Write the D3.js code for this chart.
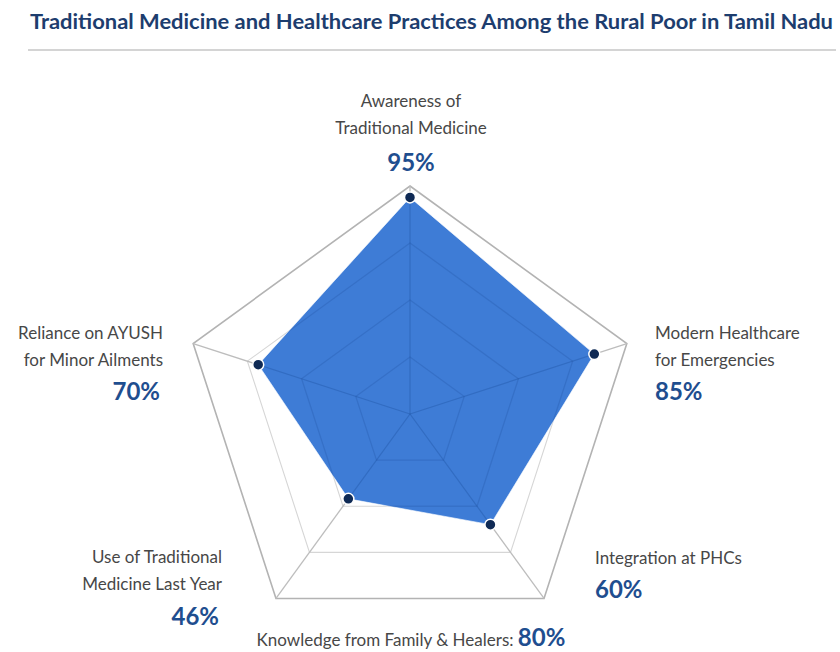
<!DOCTYPE html>
<html>
<head>
<meta charset="utf-8">
<script src="https://cdn.jsdelivr.net/npm/d3@7"></script>
<style>
  html, body { margin: 0; padding: 0; background: #ffffff; }
  svg { display: block; font-family: Lato, "Open Sans", sans-serif; }
</style>
</head>
<body>
<svg id="chart" width="840" height="652"></svg>
<script>
// Survey indicators plotted on the radar axes (clockwise from top)
const axisNames = [
  "Awareness of Traditional Medicine",
  "Modern Healthcare for Emergencies",
  "Integration at PHCs",
  "Use of Traditional Medicine Last Year",
  "Reliance on AYUSH for Minor Ailments"
];
const axisValues = [95, 85, 60, 46, 70];

// Label lines for each axis
const axisLabelLines = [
  ["Awareness of", "Traditional Medicine"],
  ["Modern Healthcare", "for Emergencies"],
  ["Integration at PHCs"],
  ["Use of Traditional", "Medicine Last Year"],
  ["Reliance on AYUSH", "for Minor Ailments"]
];

// Extra indicator shown as a footnote under the radar
const noteName = "Knowledge from Family & Healers";
const noteValue = 80;

const gridLevels = [25, 50, 75, 100];

const titleText = "Traditional Medicine and Healthcare Practices Among the Rural Poor in Tamil Nadu";

const svg = d3.select("#chart");

// ---- Title and rule ----
svg.append("text")
  .attr("x", 30).attr("y", 29)
  .attr("fill", "#1d3d6e")
  .attr("font-weight", 700)
  .attr("font-size", 20.5)
  .attr("textLength", 803)
  .attr("lengthAdjust", "spacingAndGlyphs")
  .text(titleText);

svg.append("line")
  .attr("x1", 28).attr("x2", 836)
  .attr("y1", 50).attr("y2", 50)
  .attr("stroke", "#d4d4d4").attr("stroke-width", 2);

// ---- Radar geometry ----
const cx = 410, cy = 414, R = 228;
const r = d3.scaleLinear().domain([0, 100]).range([0, R]);
const angle = d3.scaleLinear().domain([0, axisNames.length]).range([0, 2 * Math.PI]);

const pt = (i, v) => {
  const a = angle(i);
  return [cx + r(v) * Math.sin(a), cy - r(v) * Math.cos(a)];
};

const g = svg.append("g");
const ringLine = d3.line();

// grid rings
gridLevels.forEach(lv => {
  const pts = axisNames.map((_, i) => pt(i, lv));
  g.append("path")
    .attr("d", ringLine(pts) + "Z")
    .attr("fill", "none")
    .attr("stroke", lv === 100 ? "#b3b3b3" : "#d6d6d6")
    .attr("stroke-width", lv === 100 ? 1.6 : 1.1);
});

// spokes
axisNames.forEach((_, i) => {
  const [x, y] = pt(i, 100);
  g.append("line")
    .attr("x1", cx).attr("y1", cy)
    .attr("x2", x).attr("y2", y)
    .attr("stroke", "#bdbdbd").attr("stroke-width", 1.3);
});

// data area
const areaPts = axisValues.map((v, i) => pt(i, v));
g.append("path")
  .attr("d", d3.line()(areaPts) + "Z")
  .attr("fill", "#3475d4")
  .attr("fill-opacity", 0.95)
  .attr("stroke", "#ffffff")
  .attr("stroke-opacity", 0.6)
  .attr("stroke-width", 1);

// grid lines faintly visible over the fill
const clipId = "areaClip";
svg.append("clipPath").attr("id", clipId)
  .append("path").attr("d", d3.line()(areaPts) + "Z");
const over = g.append("g").attr("clip-path", `url(#${clipId})`);
gridLevels.forEach(lv => {
  const pts = axisNames.map((_, i) => pt(i, lv));
  over.append("path")
    .attr("d", ringLine(pts) + "Z")
    .attr("fill", "none")
    .attr("stroke", "#1f4f9a")
    .attr("stroke-opacity", 0.22)
    .attr("stroke-width", 1.3);
});
axisNames.forEach((_, i) => {
  const [x, y] = pt(i, 100);
  over.append("line")
    .attr("x1", cx).attr("y1", cy)
    .attr("x2", x).attr("y2", y)
    .attr("stroke", "#1f4f9a")
    .attr("stroke-opacity", 0.3)
    .attr("stroke-width", 1.2);
});

// data points
g.selectAll("circle.pt")
  .data(axisValues)
  .join("circle")
  .attr("class", "pt")
  .attr("cx", (d, i) => pt(i, d)[0])
  .attr("cy", (d, i) => pt(i, d)[1])
  .attr("r", 5.5)
  .attr("fill", "#0f2a55")
  .attr("stroke", "#ffffff")
  .attr("stroke-width", 1.5);

// ---- Axis labels ----
const labelColor = "#474747";
const valueColor = "#1f4e8f";
const labelSize = 17;
const valueSize = 24;

// anchor point, text alignment and baselines for each axis label
const labelLayout = [
  { x: 411, y: 107, anchor: "middle", valueY: 171 },
  { x: 655, y: 339, anchor: "start",  valueY: 400 },
  { x: 595, y: 564, anchor: "start",  valueY: 598 },
  { x: 222, y: 563, anchor: "end",    valueY: 625 },
  { x: 163, y: 339, anchor: "end",    valueY: 400 }
];

axisNames.forEach((name, i) => {
  const L = labelLayout[i];
  const t = svg.append("text")
    .attr("text-anchor", L.anchor)
    .attr("fill", labelColor)
    .attr("font-size", labelSize);
  axisLabelLines[i].forEach((line, k) => {
    t.append("tspan").attr("x", L.x).attr("y", L.y + k * 27).text(line);
  });
  svg.append("text")
    .attr("x", L.anchor === "end" ? L.x - 3 : L.x)
    .attr("y", L.valueY)
    .attr("text-anchor", L.anchor)
    .attr("fill", valueColor)
    .attr("font-weight", 700)
    .attr("font-size", valueSize)
    .text(axisValues[i] + "%");
});

// footnote indicator
const note = svg.append("text")
  .attr("x", 411).attr("y", 646)
  .attr("text-anchor", "middle");
note.append("tspan")
  .attr("fill", labelColor)
  .attr("font-size", labelSize)
  .text(noteName + ": ");
note.append("tspan")
  .attr("fill", valueColor)
  .attr("font-weight", 700)
  .attr("font-size", valueSize)
  .text(noteValue + "%");
</script>
</body>
</html>
